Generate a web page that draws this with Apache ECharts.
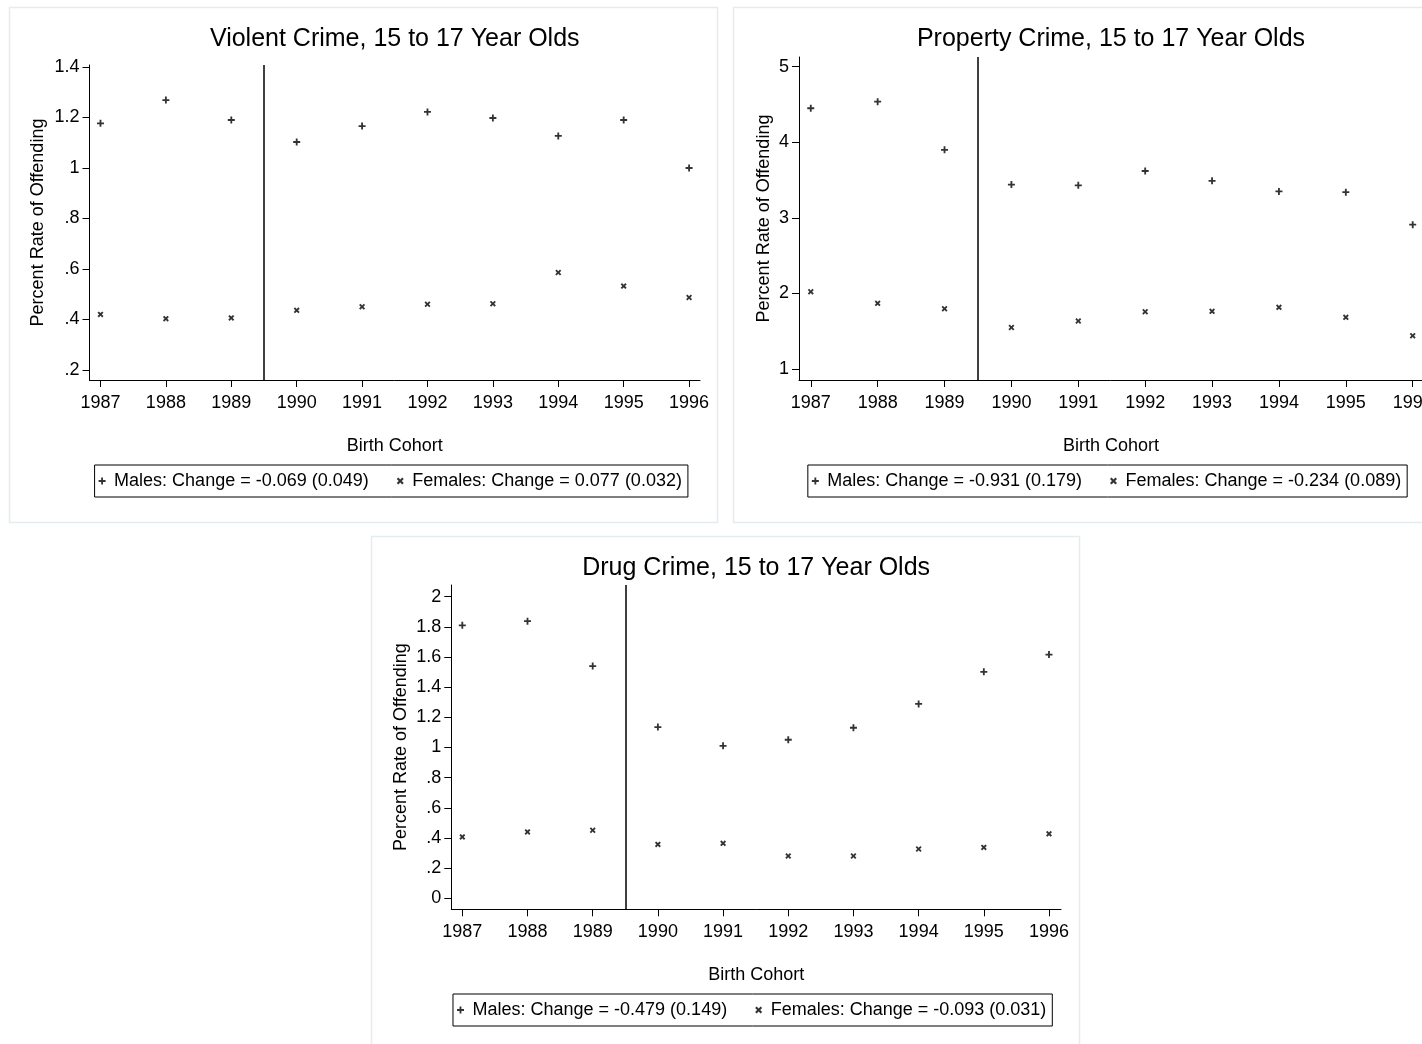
<!DOCTYPE html>
<html><head><meta charset="utf-8">
<script src="https://cdn.jsdelivr.net/npm/echarts@6/dist/echarts.min.js"></script>
<style>html,body{margin:0;padding:0;background:#fff}#c{width:1422px;height:1044px}</style>
</head><body><div id="c"></div>
<script>
// ---------- DATA ----------
const years = [1987, 1988, 1989, 1990, 1991, 1992, 1993, 1994, 1995, 1996];
const cutoffYear = 1989.5;

const violentTitle = 'Violent Crime, 15 to 17 Year Olds';
const violentMales   = [1.177, 1.269, 1.190, 1.103, 1.166, 1.222, 1.198, 1.127, 1.190, 1.000];
const violentFemales = [0.420, 0.403, 0.406, 0.436, 0.450, 0.460, 0.462, 0.586, 0.532, 0.487];
const violentTicks   = [0.2, 0.4, 0.6, 0.8, 1.0, 1.2, 1.4];
const violentLegend  = ['Males: Change = -0.069 (0.049)', 'Females: Change = 0.077 (0.032)'];

const propertyTitle = 'Property Crime, 15 to 17 Year Olds';
const propertyMales   = [4.450, 4.537, 3.900, 3.440, 3.430, 3.620, 3.490, 3.350, 3.340, 2.910];
const propertyFemales = [2.022, 1.869, 1.798, 1.550, 1.635, 1.758, 1.763, 1.816, 1.684, 1.440];
const propertyTicks   = [1, 2, 3, 4, 5];
const propertyLegend  = ['Males: Change = -0.931 (0.179)', 'Females: Change = -0.234 (0.089)'];

const drugTitle = 'Drug Crime, 15 to 17 Year Olds';
const drugMales   = [1.810, 1.838, 1.540, 1.135, 1.011, 1.051, 1.131, 1.289, 1.502, 1.616];
const drugFemales = [0.407, 0.440, 0.451, 0.357, 0.364, 0.280, 0.280, 0.327, 0.337, 0.427];
const drugTicks   = [0, 0.2, 0.4, 0.6, 0.8, 1.0, 1.2, 1.4, 1.6, 1.8, 2.0];
const drugLegend  = ['Males: Change = -0.479 (0.149)', 'Females: Change = -0.093 (0.031)'];

const yTitle = 'Percent Rate of Offending';
const xTitle = 'Birth Cohort';

// ---------- STYLE / LAYOUT ----------
const FONT = '"Liberation Sans", Arial, Helvetica, sans-serif';
const PLUS = 'path://M3.7,0H6.3V3.7H10V6.3H6.3V10H3.7V6.3H0V3.7H3.7Z';
const CROSS = 'path://M0,2.2L2.2,0L5,2.8L7.8,0L10,2.2L7.2,5L10,7.8L7.8,10L5,7.2L2.2,10L0,7.8L2.8,5Z';

const panels = [
  { title: violentTitle, males: violentMales, females: violentFemales, ticks: violentTicks, legend: violentLegend,
    grid: {left: 89.5, top: 65, width: 610.5, height: 315}, x: [1986.832, 1996.167], y: [0.16, 1.408],
    yGap: 42, titleGap: 13, legendTop: 465, box: [9.5, 7.5, 708, 515] },
  { title: propertyTitle, males: propertyMales, females: propertyFemales, ticks: propertyTicks, legend: propertyLegend,
    grid: {left: 799, top: 57, width: 624, height: 323}, x: [1986.824, 1996.154], y: [0.855, 5.128],
    yGap: 26, titleGap: 5, legendTop: 465, box: [733.5, 7.5, 740, 515] },
  { title: drugTitle, males: drugMales, females: drugFemales, ticks: drugTicks, legend: drugLegend,
    grid: {left: 451.3, top: 585, width: 609.7, height: 324.3}, x: [1986.831, 1996.184], y: [-0.0733, 2.0776],
    yGap: 41, titleGap: 4, legendTop: 994, box: [371.5, 536.5, 708, 520] }
];

const fmtNum = v => { const s = String(+(+v).toFixed(3)); return s.replace(/^0\./, '.').replace(/^-0\./, '-.'); };

const ctx = document.createElement('canvas').getContext('2d');
ctx.font = '18px ' + FONT;
const ICONW = 14, ICONH = 7, PADL = 4, PADR = 6, ITEMGAP = 28;

const option = { animation: false, grid: [], xAxis: [], yAxis: [], series: [], legend: [], graphic: [] };
const textBase = { fontFamily: FONT, color: '#000' };

panels.forEach((p, i) => {
  option.grid.push(Object.assign({ containLabel: false, outerBoundsMode: 'none' }, p.grid));
  const xBase = { type: 'value', gridIndex: i, min: p.x[0], max: p.x[1], splitLine: { show: false } };
  option.xAxis.push(Object.assign({}, xBase, {
    position: 'bottom',
    axisLine: { show: true, onZero: false, lineStyle: { color: '#000', width: 1 } },
    axisTick: { show: true, length: 7, lineStyle: { color: '#000' }, customValues: years },
    axisLabel: Object.assign({ fontSize: 18, margin: 14, customValues: years, formatter: v => String(Math.round(v)) }, textBase),
    name: xTitle, nameLocation: 'middle', nameGap: 57,
    nameTextStyle: Object.assign({ fontSize: 18 }, textBase)
  }));
  option.xAxis.push(Object.assign({}, xBase, {
    position: 'top',
    axisLine: { show: false }, axisTick: { show: false }, axisLabel: { show: false },
    name: p.title, nameLocation: 'middle', nameGap: p.titleGap,
    nameTextStyle: Object.assign({ fontSize: 25, verticalAlign: 'bottom' }, textBase)
  }));
  option.yAxis.push({
    type: 'value', gridIndex: i, min: p.y[0], max: p.y[1], splitLine: { show: false },
    axisLine: { show: true, onZero: false, lineStyle: { color: '#000', width: 1 } },
    axisTick: { show: true, length: 7, lineStyle: { color: '#000' }, customValues: p.ticks },
    axisLabel: Object.assign({ fontSize: 18, margin: 10, customValues: p.ticks, formatter: fmtNum }, textBase),
    name: yTitle, nameLocation: 'middle', nameRotate: 90, nameGap: p.yGap,
    nameTextStyle: Object.assign({ fontSize: 18 }, textBase)
  });
  option.series.push({
    type: 'scatter', name: p.legend[0], xAxisIndex: 2 * i, yAxisIndex: i,
    data: years.map((yr, k) => [yr, p.males[k]]),
    symbol: PLUS, symbolSize: 7, itemStyle: { color: '#000' },
    markLine: { silent: true, symbol: ['none', 'none'], label: { show: false },
      lineStyle: { color: '#000', width: 1.5, type: 'solid' }, data: [{ xAxis: cutoffYear }] }
  });
  option.series.push({
    type: 'scatter', name: p.legend[1], xAxisIndex: 2 * i, yAxisIndex: i,
    data: years.map((yr, k) => [yr, p.females[k]]),
    symbol: CROSS, symbolSize: 6, itemStyle: { color: '#000' }
  });
  const w = p.legend.reduce((s, t) => s + ctx.measureText(t).width, 0) + 2 * (ICONW + 5) + ITEMGAP + PADL + PADR;
  const center = p.grid.left + p.grid.width / 2;
  option.legend.push({
    data: [{ name: p.legend[0], icon: PLUS }, { name: p.legend[1], icon: CROSS }],
    left: center - w / 2, top: p.legendTop, orient: 'horizontal',
    itemWidth: ICONW, itemHeight: ICONH, itemGap: ITEMGAP, padding: [7, PADR, 7, PADL],
    symbolKeepAspect: true,
    borderColor: '#000', borderWidth: 1, selectedMode: false,
    itemStyle: { color: '#000' },
    textStyle: Object.assign({ fontSize: 18 }, textBase)
  });
  option.graphic.push({ type: 'rect', silent: true, z: -10,
    shape: { x: p.box[0], y: p.box[1], width: p.box[2], height: p.box[3] },
    style: { fill: 'none', stroke: '#e3ecee', lineWidth: 1.5 } });
});

const chart = echarts.init(document.getElementById('c'), null, { renderer: 'canvas' });
chart.setOption(option);
</script></body></html>
